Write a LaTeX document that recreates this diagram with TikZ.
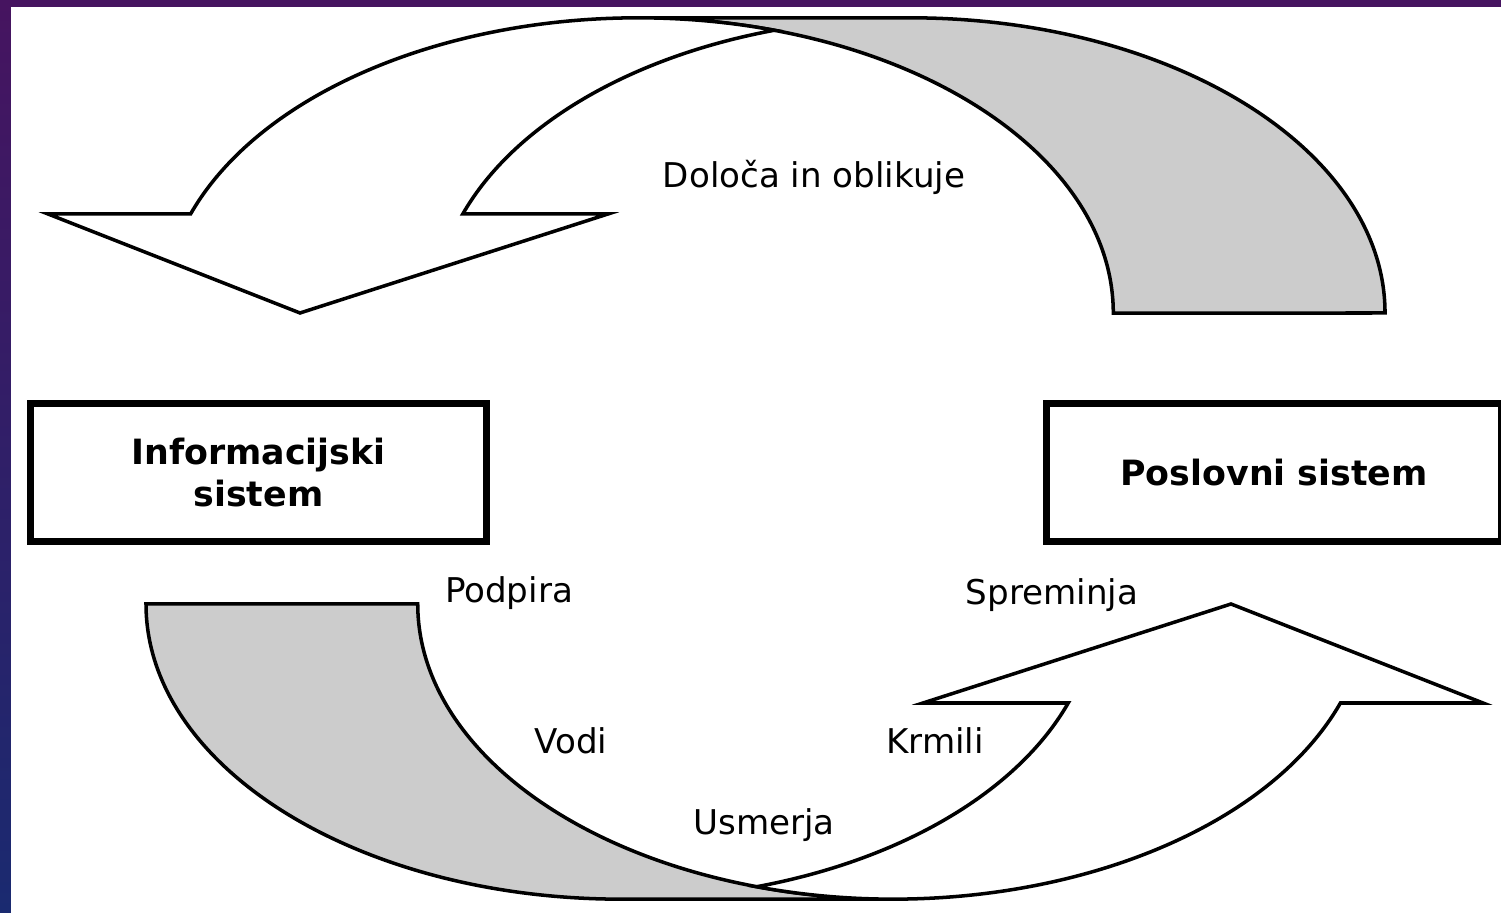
\documentclass[tikz,border=0pt]{standalone}
\usepackage{fontspec}
\setmainfont{DejaVu Sans}
\definecolor{ozadjezg}{RGB}{70,20,96}
\definecolor{ozadjesp}{RGB}{26,42,112}
\definecolor{senca}{RGB}{204,204,204}
\tikzset{elipsa/.style={x radius=4.75cm, y radius=2.95cm}}

\begin{document}
\begin{tikzpicture}[x=0.01cm, y=0.01cm,
	every node/.style={inner sep=0pt},
	sistem/.style={draw, fill=white, line width=2pt, minimum width=4.55cm, minimum height=1.37cm, align=center, font=\fontsize{9.9}{12.2}\selectfont\bfseries},
	oznaka/.style={font=\fontsize{9.7}{11}\selectfont},
	puscica/.style={draw, line width=1pt, line join=miter, fill=white},
	zadaj/.style={puscica, fill=senca}]
	
	% ozadje
	\useasboundingbox (0,0) rectangle (1501,913);
	\clip (0,0) rectangle (1501,913);
	\shade[top color=ozadjezg, bottom color=ozadjesp] (0,0) rectangle (1501,913);
	\fill[white] (11,0) rectangle (1501,906);
	
	% zgornja puscica: zadnji del
	\path[zadaj] (1385,600) arc[elipsa, start angle=0, end angle=90] -- (638,895) arc[elipsa, start angle=90, end angle=0] -- cycle;
	% zgornja puscica: sprednji del
	\path[puscica] (190.6,699) arc[elipsa, start angle=160.39, end angle=73.36] arc[elipsa, start angle=106.64, end angle=160.39] -- (608,699) -- (300,600) -- (48,699) -- cycle;
	
	% spodnja puscica: zadnji del
	\path[zadaj] (146,309) arc[elipsa, start angle=180, end angle=270] -- (893,14) arc[elipsa, start angle=270, end angle=180] -- cycle;
	% spodnja puscica: sprednji del
	\path[puscica] (1340.4,210) arc[elipsa, start angle=-19.61, end angle=-106.64] arc[elipsa, start angle=-73.36, end angle=-19.61] -- (923,210) -- (1231,309) -- (1483,210) -- cycle;
	
	% sistema
	\node[sistem] (infsis) at (258.5,440.5) {Informacijski\\sistem};
	\node[sistem] (possis) at (1274,440.5) {Poslovni sistem};
	
	% oznake
	\node[oznaka] (doloca) at (814,736) {Določa in oblikuje};
	\node[oznaka] (podpira) at (509,320) {Podpira};
	\node[oznaka] (vodi) at (571,172) {Vodi};
	\node[oznaka] (usmerja) at (764,88) {Usmerja};
	\node[oznaka] (krmili) at (935,172) {Krmili};
	\node[oznaka] (spreminja) at (1052,318) {Spreminja};
	
\end{tikzpicture}
\end{document}
